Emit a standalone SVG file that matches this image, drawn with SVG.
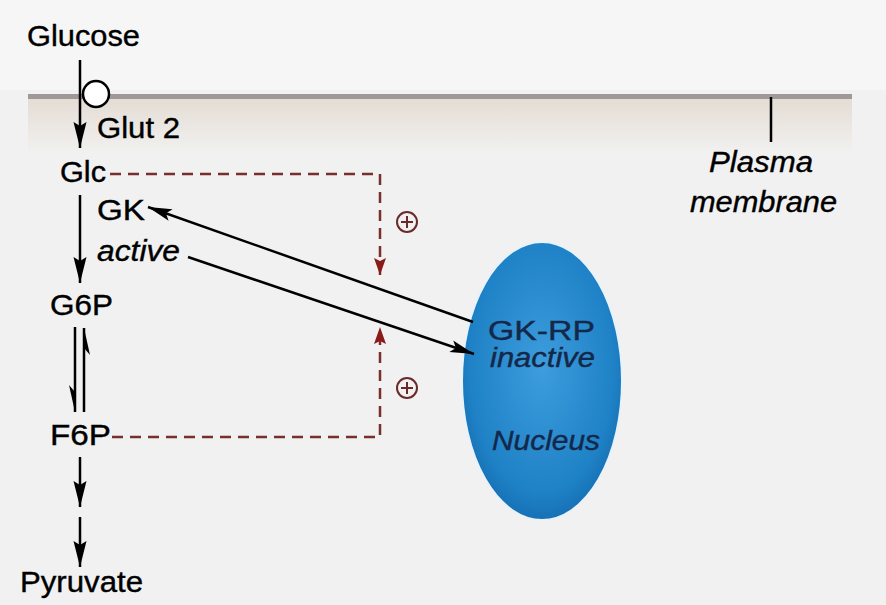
<svg xmlns="http://www.w3.org/2000/svg" width="886" height="605" viewBox="0 0 886 605">
<defs>
<style>
.t{font-family:"Liberation Sans",Arial,sans-serif;font-size:30px;fill:#000;stroke:#000;stroke-width:0.4;}
.i{font-style:italic;}
.n{fill:#14284a;stroke:#14284a;font-size:27px;}
.ln{stroke:#000;stroke-width:2.5;fill:none;}
.ds{stroke:#7a2f2f;stroke-width:2.5;fill:none;stroke-dasharray:11,7;}
.pl{stroke:#6a2a2a;stroke-width:2;fill:none;}
</style>
<marker id="ah" markerUnits="userSpaceOnUse" markerWidth="26" markerHeight="16" refX="24" refY="8" orient="auto">
<path d="M0,2 L24,8 L0,14 L5,8 Z" fill="#000"/>
</marker>
<marker id="ahv" markerUnits="userSpaceOnUse" markerWidth="28" markerHeight="16" refX="26" refY="8" orient="auto">
<path d="M0,1.5 L26,8 L0,14.5 L4,8 Z" fill="#000"/>
</marker>
<marker id="rh" markerUnits="userSpaceOnUse" markerWidth="18" markerHeight="14" refX="17" refY="7" orient="auto">
<path d="M0,1 L17,7 L0,13 L3,7 Z" fill="#8b1a1a"/>
</marker>
<linearGradient id="mem" x1="0" y1="0" x2="0" y2="1">
<stop offset="0" stop-color="#e4dcd4"/>
<stop offset="1" stop-color="#f1f1f0"/>
</linearGradient>
<radialGradient id="nuc" cx="0.5" cy="0.45" r="0.6">
<stop offset="0" stop-color="#3d9ddd"/>
<stop offset="0.75" stop-color="#1f82c6"/>
<stop offset="1" stop-color="#1368ad"/>
</radialGradient>
</defs>
<rect width="886" height="605" fill="#f1f1f1"/>
<rect x="0" y="0" width="886" height="90" fill="#f6f6f6"/>
<g id="membrane">
<rect x="28" y="98" width="824" height="55" fill="url(#mem)"/>
<rect x="28" y="94" width="824" height="5" fill="#a09896"/>
<line x1="771" y1="97" x2="771" y2="142" stroke="#000" stroke-width="2.5"/>
<text class="t i" x="709" y="172" textLength="104" lengthAdjust="spacingAndGlyphs">Plasma</text>
<text class="t i" x="690" y="212" textLength="147" lengthAdjust="spacingAndGlyphs">membrane</text>
</g>
<g id="nucleus">
<ellipse cx="542" cy="381" rx="80" ry="139" fill="url(#nuc)" stroke="#e8f2fa" stroke-width="2"/>
<text class="t n" x="488" y="340" textLength="107" lengthAdjust="spacingAndGlyphs">GK-RP</text>
<text class="t i n" x="490" y="367" font-size="25" textLength="105" lengthAdjust="spacingAndGlyphs">inactive</text>
<text class="t i n" x="492" y="450" textLength="108" lengthAdjust="spacingAndGlyphs">Nucleus</text>
</g>
<g id="glucose"><text class="t" x="27" y="46" font-size="31" textLength="113" lengthAdjust="spacingAndGlyphs">Glucose</text></g>
<g id="glut2">
<circle cx="96" cy="94" r="13" fill="#fff" stroke="#000" stroke-width="2.5"/>
<text class="t" x="97" y="138" textLength="83" lengthAdjust="spacingAndGlyphs">Glut 2</text>
</g>
<g id="glc"><text class="t" x="60" y="182" textLength="46" lengthAdjust="spacingAndGlyphs">Glc</text></g>
<g id="gk">
<text class="t" x="97" y="220" textLength="48" lengthAdjust="spacingAndGlyphs">GK</text>
<text class="t i" x="97" y="261" textLength="83" lengthAdjust="spacingAndGlyphs">active</text>
</g>
<g id="g6p"><text class="t" x="50" y="315" textLength="63" lengthAdjust="spacingAndGlyphs">G6P</text></g>
<g id="f6p"><text class="t" x="50" y="445" textLength="61" lengthAdjust="spacingAndGlyphs">F6P</text></g>
<g id="pyruvate"><text class="t" x="20" y="592" textLength="123" lengthAdjust="spacingAndGlyphs">Pyruvate</text></g>
<g id="plus1">
<circle cx="407" cy="222" r="10" fill="none" class="pl"/>
<path d="M401,222 H413 M407,216 V228" class="pl"/>
</g>
<g id="plus2">
<circle cx="407" cy="388" r="10" fill="none" class="pl"/>
<path d="M401,388 H413 M407,382 V394" class="pl"/>
</g>
<g id="connectors">
<line x1="80" y1="60" x2="80" y2="148" class="ln" marker-end="url(#ahv)"/>
<line x1="80" y1="195" x2="80" y2="283" class="ln" marker-end="url(#ahv)"/>
<line x1="75" y1="327" x2="75" y2="412" class="ln"/>
<path d="M75,412 L69,385 L75,392 Z" fill="#000"/>
<line x1="84" y1="328" x2="84" y2="412" class="ln"/>
<path d="M84,328 L90,355 L84,348 Z" fill="#000"/>
<line x1="80" y1="457" x2="80" y2="507" class="ln" marker-end="url(#ahv)"/>
<line x1="80" y1="517" x2="80" y2="567" class="ln" marker-end="url(#ahv)"/>
<line x1="473" y1="322" x2="148" y2="207" class="ln" marker-end="url(#ah)"/>
<line x1="188" y1="257" x2="474" y2="354" class="ln" marker-end="url(#ah)"/>
<path d="M110,174 H380 V275" class="ds" marker-end="url(#rh)"/>
<path d="M112,437 H380 V327" class="ds" marker-end="url(#rh)"/>
</g>
</svg>
